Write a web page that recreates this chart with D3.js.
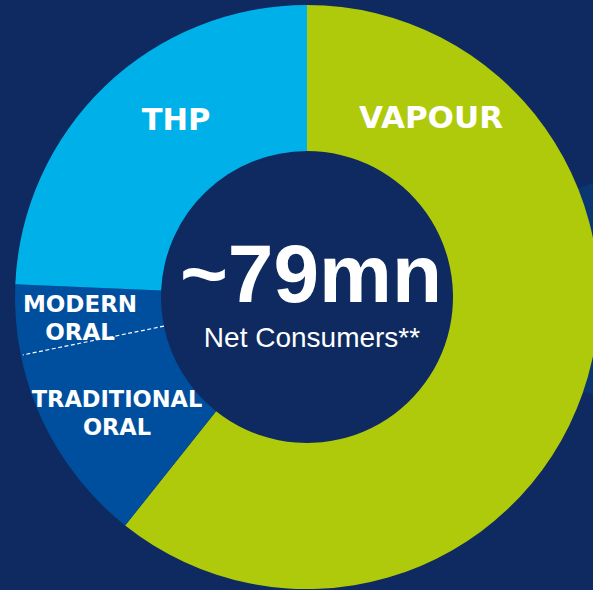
<!DOCTYPE html>
<html lang="en">
  <head>
    <meta charset="UTF-8" />
    <title>Net consumers donut</title>
    <script src="https://cdn.jsdelivr.net/npm/d3@7"></script>
    <style>
      html, body { margin: 0; padding: 0; background: #0e2a60; }
      svg { display: block; }
    </style>
  </head>
  <body>
    <script>
      // share of ~79mn net consumers (%), clockwise from 12 o'clock
      let categories = ["VAPOUR", "TRADITIONAL ORAL", "MODERN ORAL", "THP"];
      let shares = [60.7, 11.1, 3.9, 24.3];
      let colors = ["#afca0b", "#004f9f", "#004f9f", "#00b1e9"];

      let centerValue = "~79mn";
      let centerLabel = "Net Consumers**";

      let width = 593, height = 590;
      let cx = 307, cy = 297;
      let outerR = 292, innerR = 146;

      let svg = d3
        .select("body")
        .append("svg")
        .attr("width", width)
        .attr("height", height);

      svg.append("rect")
        .attr("width", width)
        .attr("height", height)
        .attr("fill", "#0e2a60");

      let g = svg.append("g").attr("transform", "translate(" + cx + "," + cy + ")");

      // faint ring behind on the right edge
      g.append("path")
        .attr("d", d3.arc()({ innerRadius: 270, outerRadius: 420, startAngle: 1.19, endAngle: 1.9 }))
        .attr("fill", "#0a3672");

      let pie = d3.pie().sort(null).value(d => d);
      let arcs = pie(shares);
      let arc = d3.arc().innerRadius(innerR).outerRadius(outerR);

      g.selectAll("path.slice")
        .data(arcs)
        .enter()
        .append("path")
        .attr("class", "slice")
        .attr("d", arc)
        .attr("fill", (d, i) => colors[i]);

      // dashed divider between traditional and modern oral
      let a = arcs[2].startAngle;
      g.append("line")
        .attr("x1", Math.sin(a) * innerR)
        .attr("y1", -Math.cos(a) * innerR)
        .attr("x2", Math.sin(a) * (outerR - 2))
        .attr("y2", -Math.cos(a) * (outerR - 2))
        .attr("stroke", "#ffffff")
        .attr("stroke-width", 1.2)
        .attr("stroke-dasharray", "4,2.5");

      // slice labels (lines of text, placed relative to centre)
      let labels = [
        { lines: ["VAPOUR"], x: 124, y: -169, size: 31 },
        { lines: ["TRADITIONAL", "ORAL"], x: -190, y: 110, size: 22.5 },
        { lines: ["MODERN", "ORAL"], x: -227, y: 15, size: 23 },
        { lines: ["THP"], x: -131, y: -167, size: 30.5 }
      ];

      labels.forEach(function (l) {
        let t = g.append("text")
          .attr("text-anchor", "middle")
          .attr("fill", "#ffffff")
          .attr("font-family", "DejaVu Sans, sans-serif")
          .attr("font-weight", "bold")
          .attr("font-size", l.size);
        l.lines.forEach(function (s, j) {
          t.append("tspan")
            .attr("x", l.x)
            .attr("y", l.y + j * 28)
            .text(s);
        });
      });

      g.append("text")
        .attr("x", 4)
        .attr("y", 5)
        .attr("text-anchor", "middle")
        .attr("fill", "#ffffff")
        .attr("font-family", "Liberation Sans, Arial, sans-serif")
        .attr("font-weight", "bold")
        .attr("font-size", 82)
        .text(centerValue);

      g.append("text")
        .attr("x", 5)
        .attr("y", 50)
        .attr("text-anchor", "middle")
        .attr("fill", "#ffffff")
        .attr("font-family", "Liberation Sans, Arial, sans-serif")
        .attr("font-size", 28)
        .text(centerLabel);
    </script>
  </body>
</html>
